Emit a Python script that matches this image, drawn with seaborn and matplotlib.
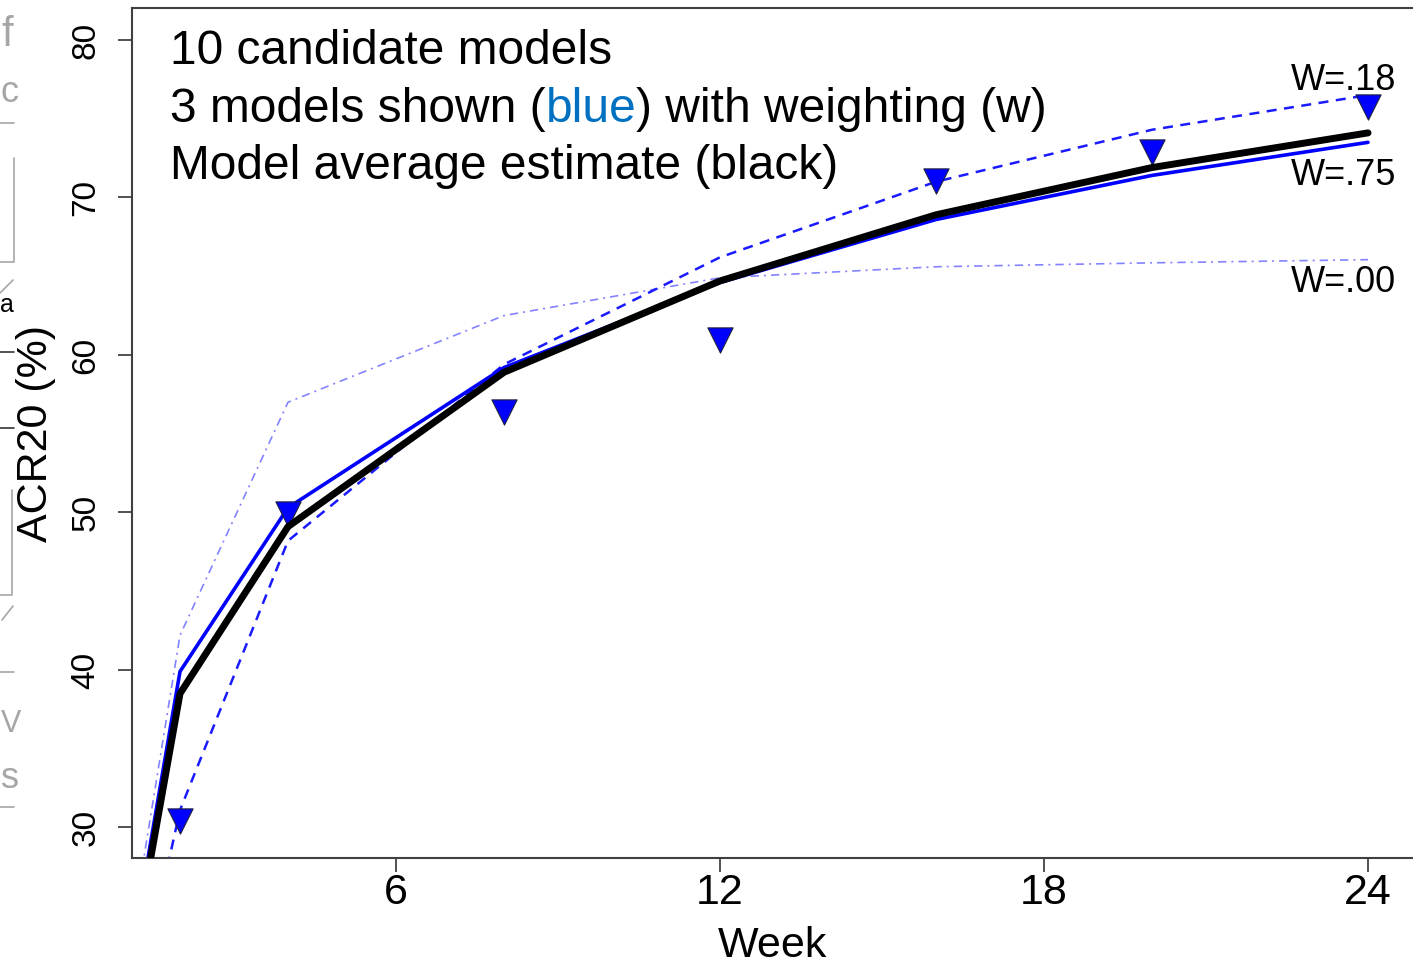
import matplotlib
matplotlib.use("Agg")
import matplotlib.pyplot as plt
import seaborn as sns

# model curves (ACR20 %, by week)
weeks = [0, 2, 4, 8, 12, 16, 20, 24]
avg_est = [0, 38.5, 49.1, 58.9, 64.7, 68.9, 71.9, 74.1]
model_w75 = [0, 39.9, 50.3, 59.2, 64.6, 68.6, 71.4, 73.5]
model_w18 = [0, 31.1, 48.2, 59.4, 66.2, 71.0, 74.3, 76.5]
model_w00 = [0, 42.2, 57.0, 62.5, 64.9, 65.6, 65.85, 66.05]

# observed data (triangles)
obs_weeks = [2, 4, 8, 12, 16, 20, 24]
observed = [30.4, 49.9, 56.4, 60.95, 71.05, 72.9, 75.75]

x_ticks = [6, 12, 18, 24]
y_ticks = [30, 40, 50, 60, 70, 80]
weight_labels = ["W=.18", "W=.75", "W=.00"]

sns.set_style("ticks")
plt.rcParams['font.family'] = ['Liberation Sans', 'DejaVu Sans']
plt.rcParams['text.color'] = 'black'
plt.rcParams['axes.labelcolor'] = 'black'

W, H = 1413, 968
fig = plt.figure(figsize=(W / 100, H / 100), dpi=100)
ax = fig.add_axes([132 / W, 110 / H, 1281 / W, 850 / H])

# -----------------------------
# lines
# -----------------------------
sns.lineplot(x=weeks, y=model_w00, ax=ax, color="#5a5aff", linewidth=1.2, alpha=0.75)
ax.lines[-1].set_dashes([5, 3, 1.2, 3])
sns.lineplot(x=weeks, y=model_w18, ax=ax, color="#1a1aff", linewidth=1.8)
ax.lines[-1].set_dashes([4, 3])
sns.lineplot(x=weeks, y=model_w75, ax=ax, color="#0000ff", linewidth=2.6)
sns.scatterplot(x=obs_weeks, y=observed, ax=ax, marker="v", s=330, color="#0000ff",
                edgecolor="#202040", linewidth=0.8, zorder=3.5)
sns.lineplot(x=weeks, y=avg_est, ax=ax, color="black", linewidth=5, zorder=4)
ax.lines[-1].set_solid_capstyle("round")

# weight labels at right end
for lab, yv in zip(weight_labels, [77.4, 71.4, 64.6]):
    ax.text(24.52, yv, lab, ha="right", va="center", fontsize=26, color="black", zorder=5)

# -----------------------------
# axes
# -----------------------------
ax.set_xlim(1.111, 24.833)
ax.set_ylim(28.06, 82.03)
ax.set_xticks(x_ticks)
ax.set_yticks(y_ticks)
ax.tick_params(axis="x", direction="out", length=10, width=1.2, colors="#333333",
               labelsize=31, pad=0.5, labelcolor="black")
ax.tick_params(axis="y", direction="out", length=10, width=1.2, colors="#333333",
               labelsize=24, pad=12, labelcolor="black", labelrotation=90)
for lab in ax.get_yticklabels():
    lab.set_va("center")
for side in ["left", "bottom", "top"]:
    ax.spines[side].set_color("#404040")
    ax.spines[side].set_linewidth(1.5)
ax.spines["right"].set_visible(False)

ax.set_xlabel("Week", fontsize=31)
ax.xaxis.set_label_coords(0.5, -0.08)
ax.set_ylabel("ACR20 (%)", fontsize=31, va="center")
ax.yaxis.set_label_coords(-0.075, 0.5)

# -----------------------------
# text block
# -----------------------------
fs = 34.5
x0 = 170 / W
fig.text(x0, 1 - 64 / H, "10 candidate models", fontsize=fs, va="baseline")
t1 = fig.text(x0, 1 - 122 / H, "3 models shown (", fontsize=fs, va="baseline")
t2 = ax.annotate("blue", xycoords=t1, xy=(1, 0), va="bottom", fontsize=fs, color="#0070C0",
                 annotation_clip=False)
ax.annotate(") with weighting (w)", xycoords=t2, xy=(1, 0), va="bottom", fontsize=fs,
            annotation_clip=False)
fig.text(x0, 1 - 179 / H, "Model average estimate (black)", fontsize=fs, va="baseline")

# -----------------------------
# slide fragments at the left edge
# -----------------------------
ov = fig.add_axes([0, 0, 1, 1], zorder=-1)
ov.set_xlim(0, W)
ov.set_ylim(H, 0)
ov.axis("off")
gray = "#a6a6a6"
ov.text(1, 46, "f", fontsize=30, color=gray, ha="left", va="baseline")
ov.text(1, 102, "c", fontsize=26, color=gray, ha="left", va="baseline")
ov.text(0, 312, "a", fontsize=18, color="black", ha="left", va="baseline")
ov.text(1, 732, "V", fontsize=22, color=gray, ha="left", va="baseline")
ov.text(1, 788, "s", fontsize=26, color=gray, ha="left", va="baseline")
for y in [123, 672, 807]:
    ov.plot([0, 14], [y, y], color=gray, lw=1.2)
for y in [352, 428]:
    ov.plot([0, 14], [y, y], color="#333333", lw=1.2)
ov.plot([14, 14, 0], [158, 262, 262], color=gray, lw=1.2)
ov.plot([12, 12, 0], [490, 595, 595], color=gray, lw=1.2)
ov.plot([0, 13], [293, 280], color=gray, lw=1.2)
ov.plot([2, 13], [620, 606], color=gray, lw=1.2)

fig.savefig("out.png", dpi=100)
